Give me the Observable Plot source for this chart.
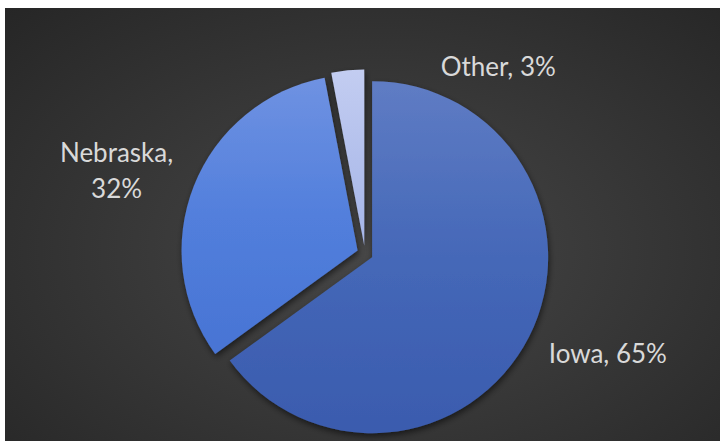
<!DOCTYPE html>
<html><head><meta charset="utf-8">
<script src="https://cdn.jsdelivr.net/npm/d3@7"></script>
<script src="https://cdn.jsdelivr.net/npm/@observablehq/plot@0.6"></script>
<style>
html,body{margin:0;padding:0;background:#fff;}
#panel{position:absolute;left:5px;top:8px;width:715px;height:433px;
  background:radial-gradient(ellipse farthest-corner at 52% 56%, #474747 0%, #3a3a3a 40%, #262626 100%);}
#panel svg{display:block;}
</style></head><body><div id="panel"></div>
<script>
// ---- data ----
const categories = ["Iowa", "Nebraska", "Other"];
const values = [65, 32, 3];
const labels = ["Iowa, 65%", "Nebraska,\n32%", "Other, 3%"];

// ---- layout ----
const W = 715, H = 433;
const CX = 360, CY = 245.5, R = 176;   // pie centre and radius in px
const EXPLODE = 8;                      // px each slice pulled out
// label placement (angle in degrees clockwise from 12 o'clock, distance in radii)
const labelPlace = {Iowa: [112, 1.485], Nebraska: [289, 1.496], Other: [35, 1.315]};
const gradStops = {
  Iowa: ["#5f7cc4", "#4568b8", "#3a5bae"],
  Nebraska: ["#6f92e2", "#527fdc", "#4874d4"],
  Other: ["#c3cdf1", "#b3c0ec", "#a6b6e9"]
};

const total = d3.sum(values);
let acc = 0;
const slices = categories.map((c, i) => {
  const start = acc / total * 2 * Math.PI;
  acc += values[i];
  const end = acc / total * 2 * Math.PI;
  return {category: c, value: values[i], label: labels[i], start, end, mid: (start + end) / 2};
});

function pieMark(index, scales) {
  const {x, y} = scales;
  const cx = x(0), cy = y(0), r = x(1) - x(0);
  const g = d3.create("svg:g");
  const defs = g.append("defs");
  const f = defs.append("filter").attr("id", "shadow")
    .attr("x", "-20%").attr("y", "-20%").attr("width", "140%").attr("height", "140%");
  f.append("feDropShadow").attr("dx", 1).attr("dy", 3).attr("stdDeviation", 3)
    .attr("flood-color", "#000").attr("flood-opacity", 0.55);
  slices.forEach((s, i) => {
    const lg = defs.append("linearGradient").attr("id", "grad" + i)
      .attr("x1", 0).attr("y1", 0).attr("x2", 0).attr("y2", 1);
    gradStops[s.category].forEach((c, k, arr) =>
      lg.append("stop").attr("offset", k / (arr.length - 1)).attr("stop-color", c));
  });
  const arc = d3.arc();
  slices.forEach((s, i) => {
    const tx = cx + EXPLODE * Math.sin(s.mid), ty = cy - EXPLODE * Math.cos(s.mid);
    g.append("path")
      .attr("d", arc({innerRadius: 0, outerRadius: r, startAngle: s.start, endAngle: s.end}))
      .attr("transform", `translate(${tx},${ty})`)
      .attr("fill", `url(#grad${i})`)
      .attr("filter", "url(#shadow)");
  });
  return g.node();
}

const lx = d => { const [a, k] = labelPlace[d.category]; return k * Math.sin(a * Math.PI / 180); };
const ly = d => { const [a, k] = labelPlace[d.category]; return k * Math.cos(a * Math.PI / 180); };

const chart = Plot.plot({
  width: W, height: H, margin: 0,
  style: {background: "transparent", overflow: "visible"},
  x: {domain: [-1, 1], range: [CX - R, CX + R], axis: null},
  y: {domain: [-1, 1], range: [CY + R, CY - R], axis: null},
  marks: [
    pieMark,
    Plot.text(slices, {
      x: lx, y: ly, text: "label",
      fill: "#d9d9d9", fontSize: 26, fontFamily: "Lato", lineHeight: 1.38
    })
  ]
});
document.getElementById("panel").appendChild(chart);
</script>
</body></html>
